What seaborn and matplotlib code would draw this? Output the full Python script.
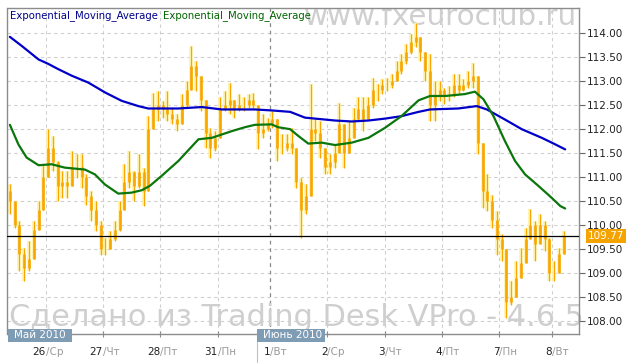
import numpy as np
import matplotlib
matplotlib.use("Agg")
import matplotlib.pyplot as plt
from matplotlib.patches import Rectangle
from matplotlib.lines import Line2D
import matplotlib.transforms as mtransforms
import seaborn as sns

# ---------------- data (2-hour bars, USD/JPY-like prices) ----------------
bars_per_day = [8, 12, 12, 12, 11, 12, 12, 12, 12, 11, 3]
day_nums = ['26', '27', '28', '31', '1', '2', '3', '4', '7', '8']
day_names = ['Ср', 'Чт', 'Пт', 'Пн', 'Вт', 'Ср', 'Чт', 'Пт', 'Пн', 'Вт']
month_labels = ['Май 2010', 'Июнь 2010']

first_open = 110.7
close = [
    110.5, 110.0, 109.4, 109.1, 109.3, 109.9, 110.3, 111.0,
    111.6, 111.3, 110.8, 110.9, 110.8, 111.2, 111.2, 111.0, 110.6, 110.3, 110.0, 109.5,
    109.5, 109.7, 109.9, 110.3, 110.9, 111.1, 110.8, 111.1, 110.7, 112.0, 112.4, 112.5,
    112.4, 112.3, 112.2, 112.1, 112.5, 112.8, 113.3, 113.1, 112.6, 111.9, 111.6, 111.8,
    112.4, 112.5, 112.6, 112.4, 112.5, 112.5, 112.6, 112.5, 111.9, 112.0, 112.1,
    112.2, 111.6, 111.6, 111.7, 111.6, 110.9, 110.3, 110.6, 112.0, 111.9, 111.6, 111.2,
    111.3, 111.5, 112.1, 111.5, 111.8, 112.2, 112.4, 112.2, 112.5, 112.8, 112.8, 112.9,
    112.9, 113.0, 113.2, 113.4, 113.6, 113.8, 113.9, 113.6, 113.2, 112.5, 112.7, 112.8,
    112.7, 112.7, 112.9, 112.8, 112.9, 113.0, 113.1, 111.7, 110.7, 110.5, 110.1, 109.7,
    109.5, 108.4, 108.5, 108.9, 109.2, 109.7, 110.0, 109.6, 110.0, 109.7, 109.0,
    109.0, 109.4, 109.77,
]
high = [
    110.84, 110.42, 110.08, 109.52, 109.66, 110.08, 110.49, 111.26,
    111.99, 111.85, 111.33, 111.12, 111.12, 111.54, 111.47, 111.47, 111.05, 110.70, 110.49, 110.08,
    109.73, 109.87, 110.08, 110.49, 111.26, 111.54, 111.12, 111.47, 111.19, 112.26, 112.75, 112.78,
    112.58, 112.78, 112.44, 112.30, 112.72, 112.99, 113.72, 113.41, 112.85, 112.30, 112.02, 111.95,
    112.65, 112.78, 112.96, 112.58, 112.72, 112.65, 112.72, 112.75, 112.44, 112.30, 112.23,
    112.37, 112.02, 111.88, 111.88, 112.02, 111.60, 110.98, 110.84, 112.92, 112.23, 112.16, 111.53,
    111.47, 111.67, 112.54, 111.95, 112.16, 112.44, 112.65, 112.65, 112.65, 113.06, 112.92, 113.03,
    113.06, 113.13, 113.41, 113.55, 113.76, 113.97, 114.20, 113.90, 113.55, 113.55, 112.99, 112.99,
    112.85, 112.89, 113.13, 113.13, 113.03, 113.20, 113.37, 112.99, 111.60, 111.05, 110.63, 110.28,
    109.80, 109.38, 108.83, 109.24, 109.52, 109.94, 110.32, 110.08, 110.23, 110.08, 109.73,
    109.24, 109.52, 109.87,
]
low = [
    110.22, 109.94, 109.05, 108.83, 109.03, 109.38, 109.94, 110.63,
    111.33, 111.12, 110.49, 110.56, 110.56, 110.84, 110.98, 110.77, 110.42, 110.08, 109.87, 109.38,
    109.38, 109.52, 109.66, 109.87, 110.63, 110.77, 110.49, 110.77, 110.39, 111.12, 111.99, 112.16,
    112.23, 112.16, 112.09, 111.95, 112.16, 112.44, 112.85, 112.78, 112.37, 111.60, 111.40, 111.53,
    112.09, 112.37, 112.30, 112.23, 112.37, 112.37, 112.44, 112.44, 111.57, 111.81, 111.95,
    112.02, 111.33, 111.47, 111.53, 111.47, 110.77, 109.73, 110.22, 110.63, 111.74, 111.40, 111.05,
    111.05, 111.19, 111.95, 111.19, 111.53, 111.95, 112.16, 111.95, 112.23, 112.44, 112.58, 112.72,
    112.78, 112.85, 112.99, 113.13, 113.34, 113.55, 113.69, 113.41, 112.99, 112.16, 112.16, 112.58,
    112.51, 112.58, 112.65, 112.72, 112.78, 112.85, 112.85, 111.47, 110.35, 110.28, 109.94, 109.38,
    109.24, 108.06, 108.34, 108.69, 109.03, 109.45, 109.73, 109.24, 109.73, 109.45, 108.83,
    108.83, 109.10, 109.45,
]

# EMA (blue, slow) read at bar positions
ema_slow_x = [0, 2.5, 6, 8, 10.1, 13, 16.4, 20, 23.4, 26.9, 29, 35.3, 40.2, 44.4, 51.3, 54.8,
              58.7, 61.8, 68.1, 71.6, 75.1, 78.6, 82, 85.6, 88, 93.9, 97.8, 99.9, 103.7,
              107.2, 111.4, 113.9, 116.3]
ema_slow_y = [113.91, 113.72, 113.44, 113.35, 113.24, 113.10, 112.96, 112.75, 112.58, 112.47,
              112.42, 112.42, 112.45, 112.40, 112.40, 112.38, 112.35, 112.23, 112.17, 112.15,
              112.17, 112.21, 112.26, 112.35, 112.40, 112.42, 112.47, 112.40, 112.19, 111.99,
              111.81, 111.69, 111.57]
# EMA (green, fast)
ema_fast_x = [0, 1.8, 3.5, 6, 8.75, 11.5, 15.7, 17.8, 19.9, 22.7, 25.5, 27.6, 29.3, 31.8,
              35.3, 39.5, 42.3, 46.5, 49.2, 51.3, 54.8, 56.2, 58.7, 60.4, 62.5, 65.3, 68.1,
              71.6, 75.1, 78.6, 82, 85.6, 88, 91.2, 95.3, 97.4, 99.2, 101.3, 103.7, 105.8,
              107.9, 110.7, 113.5, 115.3, 116.3]
ema_fast_y = [112.08, 111.67, 111.40, 111.24, 111.26, 111.19, 111.15, 111.05, 110.84, 110.65,
              110.67, 110.72, 110.81, 111.02, 111.33, 111.78, 111.81, 111.95, 112.03, 112.08,
              112.09, 112.03, 111.99, 111.85, 111.69, 111.71, 111.66, 111.71, 111.81, 112.02,
              112.26, 112.59, 112.68, 112.68, 112.72, 112.77, 112.61, 112.26, 111.74, 111.33,
              111.05, 110.81, 110.56, 110.39, 110.34]

last_price = 109.77
y_ticks = [108.0, 108.5, 109.0, 109.5, 110.0, 110.5, 111.0, 111.5, 112.0, 112.5, 113.0, 113.5, 114.0]

# ---------------- styling ----------------
sns.set_style("white")
plt.rcParams['font.family'] = ['DejaVu Sans']

W, H = 633, 364
fig = plt.figure(figsize=(W / 100, H / 100), dpi=100)
fig.patch.set_facecolor('white')
ax = fig.add_axes([7.5 / W, 1 - 334 / H, 571.5 / W, 326 / H])
ax.set_xlim(-0.5, 119.2)
ax.set_ylim(107.73, 114.51)

n = len(close)
xs = np.arange(n)
c = np.array(close)
o = np.r_[first_open, c[:-1]]
hi = np.maximum(np.array(high), np.maximum(o, c))
lo = np.minimum(np.array(low), np.minimum(o, c))

bounds = np.cumsum(bars_per_day)[:-1] - 0.5
june_idx = 4

grid_kw = dict(color='#cfcfcf', lw=0.8, ls=(0, (3, 3)), zorder=0.2)
for v in y_ticks:
    ax.axhline(v, **grid_kw)
for k, b in enumerate(bounds):
    if k == june_idx:
        ax.axvline(b, color='#8a8a8a', lw=0.9, ls=(0, (3, 3)), zorder=0.3)
    else:
        ax.axvline(b, **grid_kw)

# watermarks
wm1 = ax.text(577 / W, 1 - 25 / H, 'www.fxeuroclub.ru', transform=fig.transFigure,
              ha='right', va='baseline', fontsize=20, color='#cfcfcf', zorder=0.4, clip_on=True)
wm2 = ax.text(9 / W, 1 - 326 / H, 'Сделано из Trading Desk VPro - 4.6.5', transform=fig.transFigure,
              ha='left', va='baseline', fontsize=21, color='#cfcfcf', zorder=0.4, clip_on=False)
fig.canvas.draw()
r = fig.canvas.get_renderer()
for t, target in ((wm1, 274), (wm2, 574)):
    w = t.get_window_extent(r).width
    t.set_fontsize(t.get_fontsize() * target / w)

# candles
orange = '#f7a700'
ax.vlines(xs, lo, hi, color='#fff1a8', lw=2.6, zorder=2)
ax.vlines(xs, lo, hi, color=orange, lw=0.8, zorder=3)
ax.vlines(xs, np.minimum(o, c), np.maximum(o, c), color=orange, lw=1.9, zorder=3)

# moving averages
sns.lineplot(x=ema_slow_x, y=ema_slow_y, ax=ax, color='#0000c8', lw=1.6, zorder=4)
sns.lineplot(x=ema_fast_x, y=ema_fast_y, ax=ax, color='#0b760b', lw=1.6, zorder=5)

ax.axhline(last_price, color='black', lw=0.9, zorder=6)

# axes / ticks
for s in ax.spines.values():
    s.set_visible(True)
    s.set_color('#8c8c8c')
    s.set_linewidth(1.0)
ax.yaxis.tick_right()
ax.set_yticks(y_ticks)
ax.set_yticklabels([f'{v:.2f}' for v in y_ticks])
ax.tick_params(axis='y', direction='out', length=4, width=0.8, color='#666666',
               labelsize=7.5, labelcolor='#222222', pad=1.5, right=True, left=False)
ax.set_xticks(bounds)
ax.set_xticklabels([])
ax.tick_params(axis='x', direction='inout', length=5, width=0.8, color='#8c8c8c', bottom=True)
ax.set_xlabel('')
ax.set_ylabel('')

# day labels
trans = mtransforms.blended_transform_factory(ax.transData, fig.transFigure)
yl = 1 - 352 / H
for b, num, name in zip(bounds, day_nums, day_names):
    ax.text(b, yl, num, transform=trans, ha='right', va='center', fontsize=7.5,
            color='#222222', clip_on=False)
    ax.text(b, yl, '/' + name, transform=trans, ha='left', va='center', fontsize=7.5,
            color='#9a9a9a', clip_on=False)

# month boxes
box_c = '#7f9cb5'
fig.patches.append(Rectangle((8 / W, 1 - 342 / H), 64 / W, 13 / H, transform=fig.transFigure,
                             fc=box_c, ec='none', zorder=2))
fig.text(14 / W, 1 - 335.5 / H, month_labels[0], color='white', fontsize=7.5, va='center',
         ha='left', zorder=3)
fig.patches.append(Rectangle((257 / W, 1 - 342 / H), 68 / W, 13 / H, transform=fig.transFigure,
                             fc=box_c, ec='none', zorder=2))
fig.text(263 / W, 1 - 335.5 / H, month_labels[1], color='white', fontsize=7.5, va='center',
         ha='left', zorder=3)
fig.lines.append(Line2D([257 / W, 257 / W], [1 - 342 / H, 1 - 362 / H], transform=fig.transFigure,
                        color='#c0c0c0', lw=0.8))

# last price label
fig.patches.append(Rectangle((586 / W, 1 - 243 / H), 40 / W, 14 / H, transform=fig.transFigure,
                             fc='#f5a300', ec='none', zorder=2))
fig.text(588 / W, 1 - 236 / H, f'{last_price:.2f}', color='white', fontsize=7.5, va='center',
         ha='left', zorder=3)

# legend texts
fig.text(10 / W, 1 - 16 / H, 'Exponential_Moving_Average', color='#00008b', fontsize=7.3,
         va='center', ha='left')
fig.text(163 / W, 1 - 16 / H, 'Exponential_Moving_Average', color='#006400', fontsize=7.3,
         va='center', ha='left')

fig.savefig('out.png', dpi=100, facecolor='white')
